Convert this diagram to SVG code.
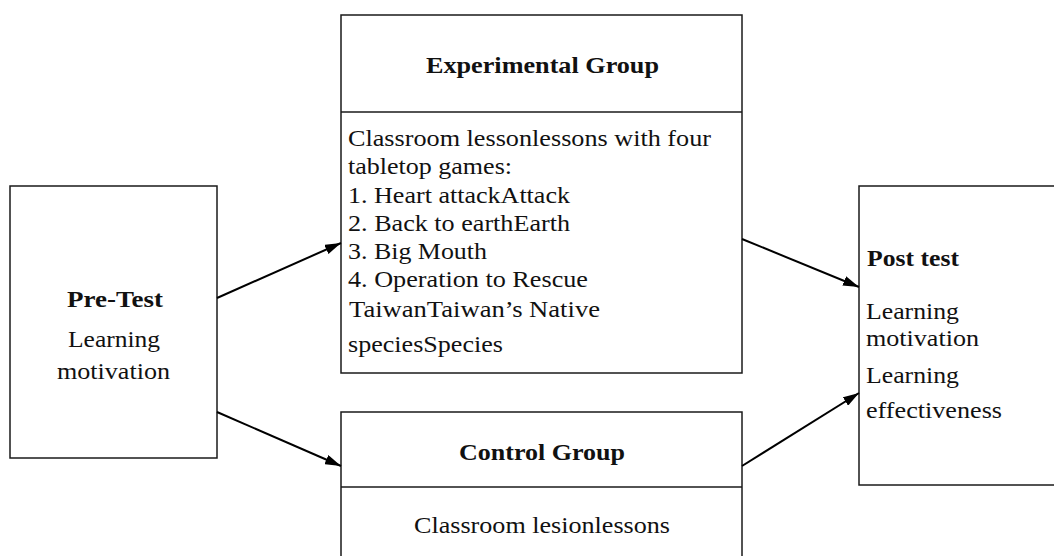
<svg xmlns="http://www.w3.org/2000/svg" width="1054" height="556" viewBox="0 0 1054 556">
<style>
.box{fill:#fff;stroke:#1a1a1a;stroke-width:1.5}
.t{font-family:"Liberation Serif","Times New Roman",serif;font-size:23px;fill:#111}
.b{font-weight:bold}
.c{text-anchor:middle}
.conn{stroke:#000;stroke-width:2;fill:none;marker-end:url(#ah)}
</style>
<defs>
<marker id="ah" viewBox="0 0 16 10" refX="16" refY="5" markerWidth="16" markerHeight="10" markerUnits="userSpaceOnUse" orient="auto">
<path d="M0,0 L16,5 L0,10 Z" fill="#000"/>
</marker>
</defs>
<rect width="1054" height="556" fill="#fff"/>
<g id="pretest">
<rect class="box" x="10" y="186" width="207" height="272"/>
<text class="t b" x="67" y="307" textLength="96" lengthAdjust="spacingAndGlyphs">Pre-Test</text>
<text class="t" x="68" y="347" textLength="92" lengthAdjust="spacingAndGlyphs">Learning</text>
<text class="t" x="57" y="379" textLength="113" lengthAdjust="spacingAndGlyphs">motivation</text>
</g>
<g id="experimental">
<rect class="box" x="341" y="15" width="401" height="358"/>
<line x1="341" y1="112" x2="742" y2="112" stroke="#1a1a1a" stroke-width="1.5"/>
<text class="t b" x="426" y="73" textLength="233" lengthAdjust="spacingAndGlyphs">Experimental Group</text>
<text class="t" x="348" y="146" textLength="363" lengthAdjust="spacingAndGlyphs">Classroom lessonlessons with four</text>
<text class="t" x="348" y="174" textLength="164" lengthAdjust="spacingAndGlyphs">tabletop games:</text>
<text class="t" x="348" y="203" textLength="222" lengthAdjust="spacingAndGlyphs">1. Heart attackAttack</text>
<text class="t" x="348" y="231" textLength="222" lengthAdjust="spacingAndGlyphs">2. Back to earthEarth</text>
<text class="t" x="348" y="259" textLength="139" lengthAdjust="spacingAndGlyphs">3. Big Mouth</text>
<text class="t" x="348" y="287" textLength="240" lengthAdjust="spacingAndGlyphs">4. Operation to Rescue</text>
<text class="t" x="349" y="317" textLength="251" lengthAdjust="spacingAndGlyphs">TaiwanTaiwan’s Native</text>
<text class="t" x="348" y="352" textLength="155" lengthAdjust="spacingAndGlyphs">speciesSpecies</text>
</g>
<g id="control">
<rect class="box" x="341" y="412" width="401" height="160"/>
<line x1="341" y1="487" x2="742" y2="487" stroke="#1a1a1a" stroke-width="1.5"/>
<text class="t b" x="459" y="460" textLength="166" lengthAdjust="spacingAndGlyphs">Control Group</text>
<text class="t" x="414" y="533" textLength="256" lengthAdjust="spacingAndGlyphs">Classroom lesionlessons</text>
</g>
<g id="posttest">
<rect class="box" x="859" y="186" width="210" height="299"/>
<text class="t b" x="867" y="266" textLength="92" lengthAdjust="spacingAndGlyphs">Post test</text>
<text class="t" x="866" y="319" textLength="93" lengthAdjust="spacingAndGlyphs">Learning</text>
<text class="t" x="866" y="346" textLength="113" lengthAdjust="spacingAndGlyphs">motivation</text>
<text class="t" x="866" y="383" textLength="93" lengthAdjust="spacingAndGlyphs">Learning</text>
<text class="t" x="866" y="418" textLength="136" lengthAdjust="spacingAndGlyphs">effectiveness</text>
</g>
<g id="connectors">
<line class="conn" x1="217" y1="298" x2="341" y2="243"/>
<line class="conn" x1="217" y1="412" x2="341" y2="466"/>
<line class="conn" x1="742" y1="239" x2="859" y2="287"/>
<line class="conn" x1="742" y1="466" x2="859" y2="393"/>
</g>
</svg>
